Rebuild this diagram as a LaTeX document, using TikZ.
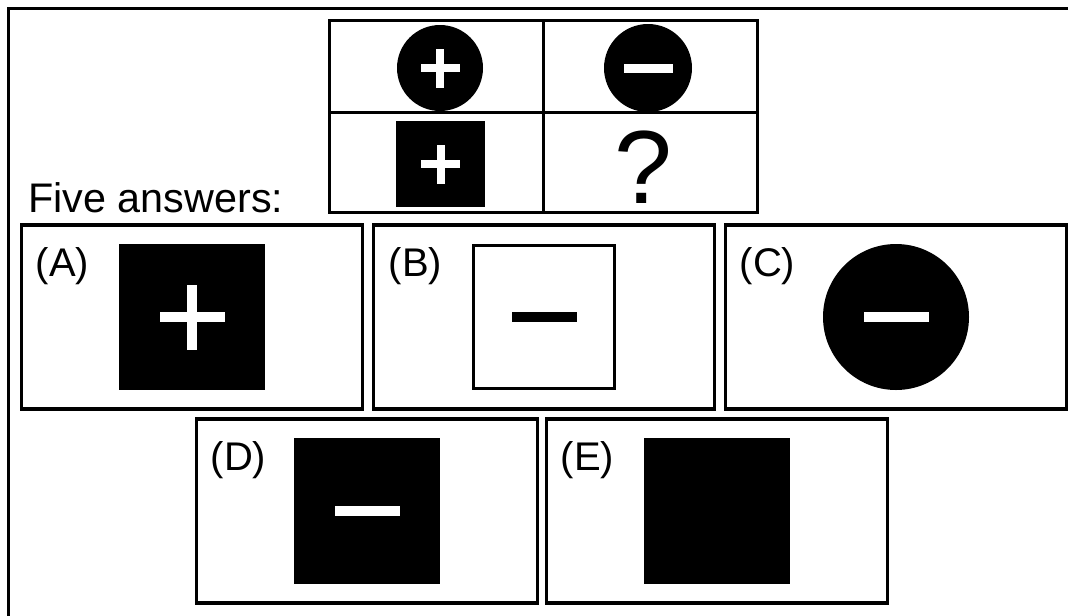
\documentclass[tikz,border=0pt]{standalone}
\usepackage{fontspec}
\setmainfont{Liberation Sans}
\usetikzlibrary{positioning}
\newcommand{\boxgap}{8.25pt}
\tikzset{ansbox/.style={draw, line width=2.4pt, inner sep=0pt, outer sep=0pt, minimum width=255.75pt, minimum height=138pt}}
\tikzset{anslabel/.style={anchor=base west, inner sep=0pt, font=\fontsize{30}{36}\selectfont}}
\tikzset{blacksq/.style={rectangle, fill=black, inner sep=0pt, minimum width=110pt, minimum height=110pt}}
\tikzset{disc/.style={circle, fill=black, inner sep=0pt}}
\tikzset{bar/.style={rectangle, fill=white, inner sep=0pt, minimum width=48.75pt, minimum height=7.5pt}}
\tikzset{vbar/.style={bar, minimum width=7.5pt, minimum height=48.75pt}}
\tikzset{smallbar/.style={bar, minimum width=29.25pt, minimum height=6pt}}
\tikzset{smallvbar/.style={bar, minimum width=6pt, minimum height=29.25pt}}

\begin{document}
\begin{tikzpicture}[x=0.75pt, y=-0.75pt]

\clip (0,0) rectangle (1068,615);
\fill[white] (0,0) rectangle (1068,615);
\draw[line width=2.6pt] (8.5,8.5) rectangle (1090,640);

% the puzzle grid
\draw[line width=2.25pt] (329,20) rectangle (757,212);
\draw[line width=2.25pt] (543,20) -- (543,212);
\draw[line width=2.25pt] (329,112) -- (757,112);

\node[disc, minimum size=64.5pt] (c11) at (440,68) {};
\node[smallbar] at (c11) {}; \node[smallvbar] at (c11) {};
\node[disc, minimum size=66pt] (c12) at (648,68) {};
\node[smallbar, minimum width=36.75pt, minimum height=6.75pt] at (c12) {};
\node[blacksq, minimum width=66.75pt, minimum height=64.5pt] (c21) at (440.5,164) {};
\node[smallbar] at (c21) {}; \node[smallvbar] at (c21) {};
\node[anchor=base, inner sep=0pt, font=\fontsize{78}{80}\selectfont] (c22) at (643,203) {?};

\node[anchor=base west, inner sep=0pt, font=\fontsize{31}{36}\selectfont] (five) at (28,212) {Five answers:};

% the answers
\node[ansbox] (boxA) at (192,317) {};
\node[ansbox, right=\boxgap of boxA] (boxB) {};
\node[ansbox, right=\boxgap of boxB] (boxC) {};
\node[ansbox] (boxD) at (367,511) {};
\node[ansbox, right=6.75pt of boxD] (boxE) {};

\node[anslabel] at ([shift={(14,51)}]boxA.north west) {(A)};
\node[anslabel] at ([shift={(15,51)}]boxB.north west) {(B)};
\node[anslabel] at ([shift={(14,51)}]boxC.north west) {(C)};
\node[anslabel] at ([shift={(14,51)}]boxD.north west) {(D)};
\node[anslabel] at ([shift={(14,51)}]boxE.north west) {(E)};

\node[blacksq] (shA) at (boxA) {};
\node[bar] at (shA) {}; \node[vbar] at (shA) {};
\node[rectangle, draw, line width=2.25pt, inner sep=0pt, minimum width=106pt, minimum height=107pt] (shB) at (boxB) {};
\node[bar, fill=black] at (shB) {};
\node[disc, minimum size=109.5pt] (shC) at (boxC) {};
\node[bar] at (shC) {};
\node[blacksq] (shD) at (boxD) {};
\node[bar] at (shD) {};
\node[blacksq] (shE) at (boxE) {};

\end{tikzpicture}
\end{document}
